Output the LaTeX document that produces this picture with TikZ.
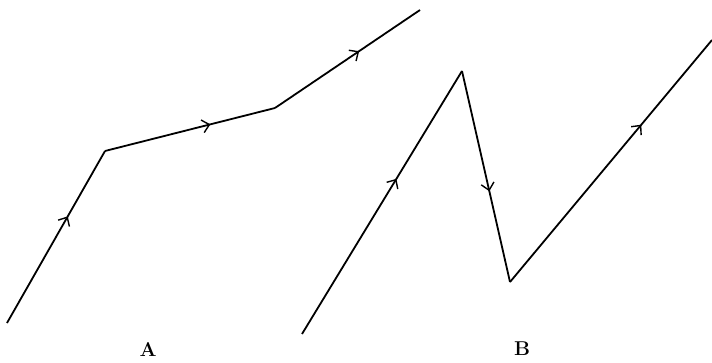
\documentclass[tikz,border=0pt]{standalone}
\usepackage{tikz}
\usetikzlibrary{arrows.meta, decorations.markings}

\begin{document}
\begin{tikzpicture}[
    x=1pt, y=-1pt,
    pathline/.style={line width=1.8pt},
    midarrow/.style={postaction={decorate, decoration={markings,
        mark=at position #1 with {\arrow[line width=1.4pt]{Straight Barb[length=7pt, width=13pt]}}}}},
    caption/.style={font=\fontsize{20}{24}\selectfont\bfseries}
]
\useasboundingbox (0,0) rectangle (712,363);

% Path A
\coordinate (a0) at (7,323);
\coordinate (a1) at (105,151);
\coordinate (a2) at (275,108);
\coordinate (a3) at (420,10);

% Path B
\coordinate (b0) at (302,334);
\coordinate (b1) at (462,71);
\coordinate (b2) at (510,282);
\coordinate (b3) at (712,40);

% Segments of A
\draw[pathline, midarrow=0.62] (a0) -- (a1);
\draw[pathline, midarrow=0.62] (a1) -- (a2);
\draw[pathline, midarrow=0.58] (a2) -- (a3);

% Segments of B
\draw[pathline, midarrow=0.59] (b0) -- (b1);
\draw[pathline, midarrow=0.57] (b1) -- (b2);
\draw[pathline, midarrow=0.65] (b2) -- (b3);

% Labels
\node[caption] (labA) at (148,349) {A};
\node[caption] (labB) at (522,349) {B};

\end{tikzpicture}
\end{document}
